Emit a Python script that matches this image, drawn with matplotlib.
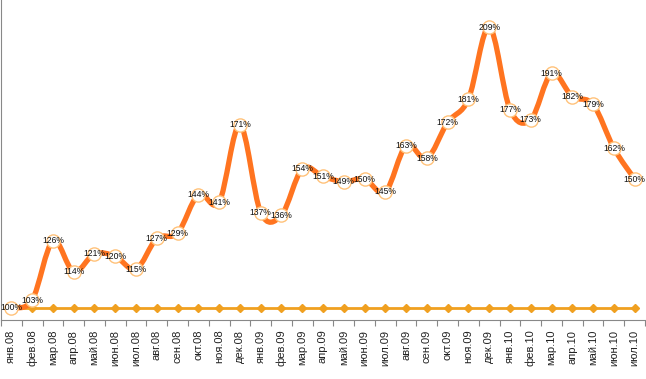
import numpy as np
import matplotlib.pyplot as plt
from matplotlib.path import Path
from matplotlib.patches import PathPatch

plt.rcParams['font.family'] = ['Liberation Sans', 'DejaVu Sans']

months = ['янв.08', 'фев.08', 'мар.08', 'апр.08', 'май.08', 'июн.08', 'июл.08',
          'авг.08', 'сен.08', 'окт.08', 'ноя.08', 'дек.08', 'янв.09', 'фев.09',
          'мар.09', 'апр.09', 'май.09', 'июн.09', 'июл.09', 'авг.09', 'сен.09',
          'окт.09', 'ноя.09', 'дек.09', 'янв.10', 'фев.10', 'мар.10', 'апр.10',
          'май.10', 'июн.10', 'июл.10']
index_vals = [100, 103, 126, 114, 121, 120, 115, 127, 129, 144, 141, 171, 137, 136,
              154, 151, 149, 150, 145, 163, 158, 172, 181, 209, 177, 173, 191, 182,
              179, 162, 150]
base_vals = [100] * len(months)

x = np.arange(len(months))
y = np.array(index_vals, dtype=float)

fig = plt.figure(figsize=(6.46, 3.79), dpi=100)
ax = fig.add_axes([1 / 646, 1 - 320 / 379, 644 / 646, 320 / 379])

# base line with diamonds
ax.plot(x, base_vals, color='#F0A020', lw=2, marker='D', markersize=4.5,
        markeredgecolor='#F0A020', zorder=2)

# smoothed line (Excel-style bezier through the points)
verts = [(x[0], y[0])]
codes = [Path.MOVETO]
n = len(x)
for i in range(n - 1):
    p0 = np.array([x[max(i - 1, 0)], y[max(i - 1, 0)]])
    p1 = np.array([x[i], y[i]])
    p2 = np.array([x[i + 1], y[i + 1]])
    p3 = np.array([x[min(i + 2, n - 1)], y[min(i + 2, n - 1)]])
    c1 = p1 + (p2 - p0) / 6
    c2 = p2 - (p3 - p1) / 6
    verts += [tuple(c1), tuple(c2), tuple(p2)]
    codes += [Path.CURVE4] * 3
ax.add_patch(PathPatch(Path(verts, codes), facecolor='none', edgecolor='#FF7420',
                       lw=3.8, capstyle='round', joinstyle='round', zorder=3))
ax.plot(x, y, ls='none', marker='o', markersize=9.5, markerfacecolor='white',
        markeredgecolor='#FFC27A', markeredgewidth=1.0, zorder=4)

for xi, v in zip(x, index_vals):
    ax.text(xi, v, f'{v}%', ha='center', va='center', fontsize=6.2,
            color='#111111', zorder=5)

ax.set_xlim(-0.5, n - 0.5)
ax.set_ylim(95.3, 219.5)
ax.set_xticks(x)
ax.set_xticklabels(months, rotation=90, fontsize=8, color='#222222')
ax.set_xticks(np.arange(-0.5, n), minor=True)
ax.tick_params(axis='x', which='major', length=0, pad=7)
ax.tick_params(axis='x', which='minor', length=4, color='#888888', width=0.8)
ax.set_yticks([])
for s in ['top', 'right']:
    ax.spines[s].set_visible(False)
ax.spines['left'].set_color('#888888')
ax.spines['bottom'].set_color('#888888')
ax.spines['left'].set_linewidth(0.8)
ax.spines['bottom'].set_linewidth(0.8)

fig.savefig('out.png', dpi=100)
